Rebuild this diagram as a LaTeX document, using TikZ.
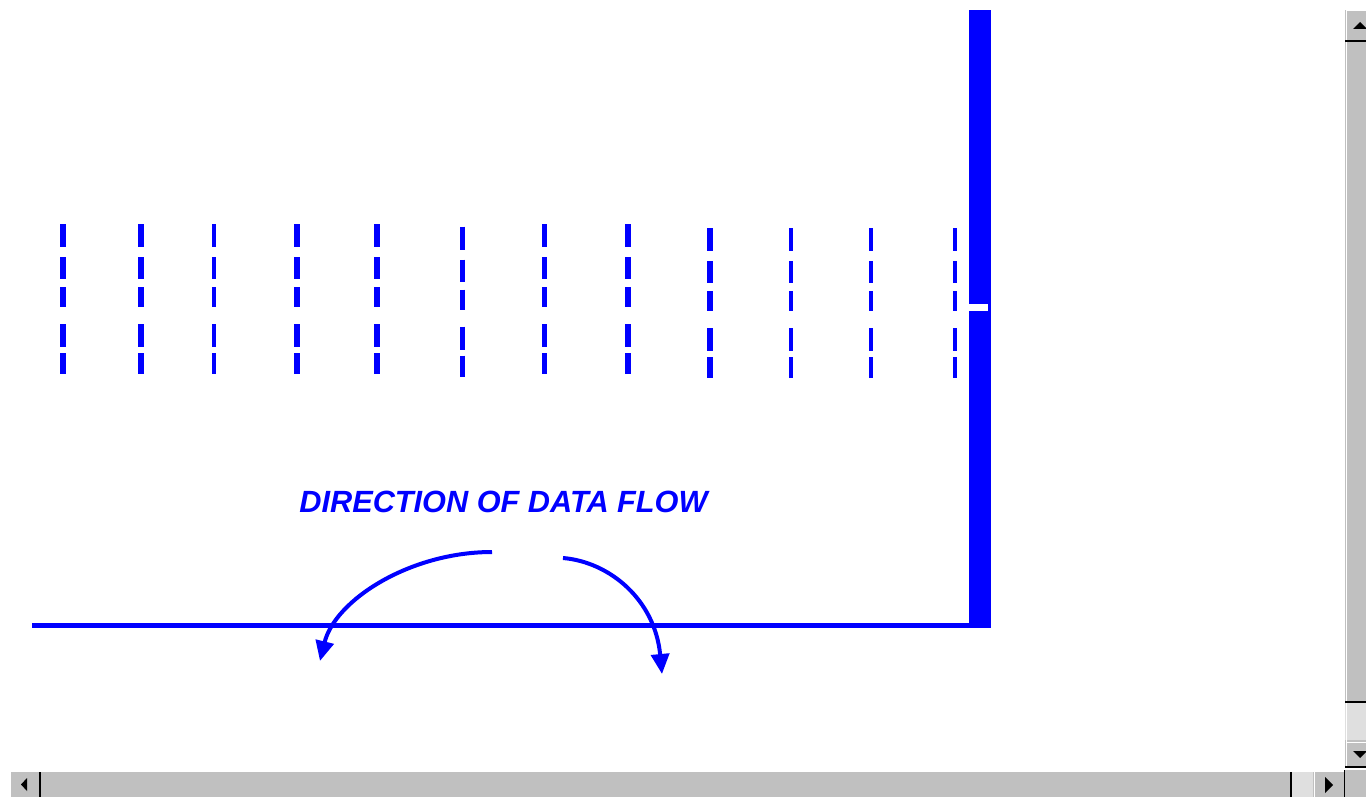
\documentclass[tikz,border=0pt]{standalone}
\usepackage{fontspec}
\setsansfont{Liberation Sans}
\usetikzlibrary{arrows.meta}
\definecolor{flowblue}{RGB}{0,0,255}
\definecolor{barface}{RGB}{192,192,192}
\definecolor{barlight}{RGB}{223,223,223}

\begin{document}
\begin{tikzpicture}[x=1pt, y=-1pt,
    tap/.style={flowblue, line cap=butt,
      dash pattern=on 23pt off 10pt on 22pt off 8pt on 20pt off 17pt on 23pt off 6pt on 21pt off 60pt},
    flow/.style={flowblue, line width=4pt, -{Triangle[length=20pt,width=18pt]}},
    edge/.style={black, line width=1.5pt},
    lit/.style={white, line width=1pt}]
  \useasboundingbox (0,0) rectangle (1366,797);
  \fill[white] (0,0) rectangle (1366,797);

  \fill[flowblue] (969,10) rectangle (991,628);
  \fill[flowblue] (32,623) rectangle (991,628);
  \fill[white] (968,304) rectangle (988,311);

  \foreach \x/\w/\y in {63/6/224, 141/6/224, 214/4/224, 297/6/224, 377/6/224,
                        462/5/226.5, 544/5/224, 628/6/224,
                        710/6/228, 791/4/228, 871/4/228, 955/4/228}
    \draw[tap, line width=\w pt] (\x,\y) -- ++(0,151);

  \node (title) [anchor=base, inner sep=0pt, flowblue,
                 font=\sffamily\bfseries\itshape\fontsize{30.7}{32}\selectfont]
    at (503.5,512) {DIRECTION OF DATA FLOW};

  \coordinate (back-a) at (492,552);
  \coordinate (back-b) at (320,661);
  \coordinate (fwd-a) at (563,558);
  \coordinate (fwd-b) at (662,674);
  \draw[flow] (back-a) .. controls (410,552) and (335,600) .. (back-b);
  \draw[flow] (fwd-a) .. controls (610,562) and (655,600) .. (fwd-b);

  \fill[barface] (1345,10) rectangle (1366,767);
  \fill[barlight] (1345,703) rectangle (1366,740);
  \draw[lit] (1346,767) -- (1346,10.5) -- (1366,10.5);
  \draw[edge] (1345,41) -- (1366,41);
  \draw[edge] (1345,702) -- (1366,702);
  \draw[edge] (1345,767) -- (1366,767);
  \draw[lit] (1346,742) -- (1366,742);
  \fill[black] (1353,29) -- (1360,22) -- (1367,29) -- cycle;
  \fill[black] (1353,751) -- (1367,751) -- (1360,758) -- cycle;

  \fill[barface] (1345,770) rectangle (1366,797);
  \fill[barface] (10,771) rectangle (1344,797);
  \fill[barlight] (1292,772) rectangle (1313,797);
  \draw[lit] (10.5,797) -- (10.5,771.5) -- (1344,771.5);
  \draw[edge] (40,772) -- (40,797);
  \draw[edge] (1291,772) -- (1291,797);
  \draw[edge] (1344.5,770) -- (1344.5,797);
  \draw[lit] (1314,797) -- (1314,772);
  \fill[black] (27,778) -- (21,784.5) -- (27,791) -- cycle;
  \fill[black] (1325,777) -- (1333,785) -- (1325,793) -- cycle;
\end{tikzpicture}
\end{document}
